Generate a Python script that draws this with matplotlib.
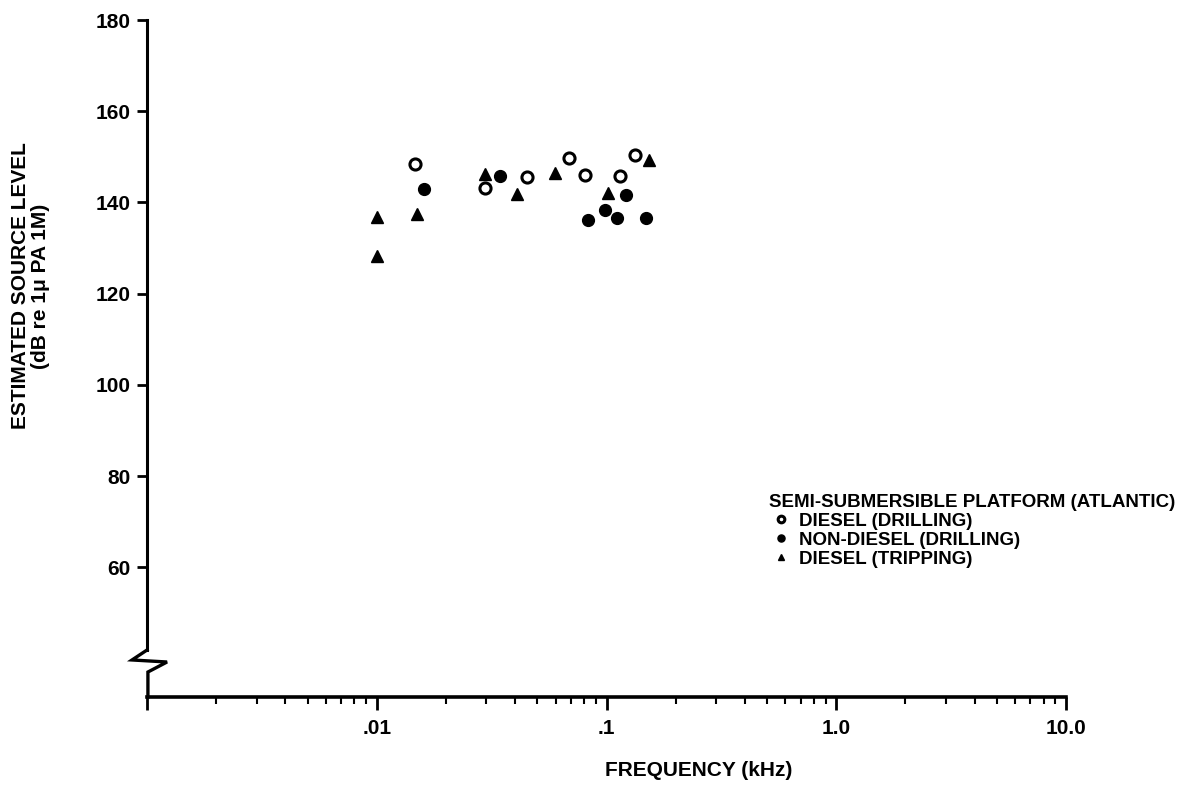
import matplotlib
matplotlib.use("Agg")
import matplotlib.pyplot as plt
from matplotlib.lines import Line2D
from matplotlib.ticker import LogLocator, FixedLocator, FixedFormatter, NullFormatter

plt.rcParams['font.family'] = ['Liberation Sans', 'DejaVu Sans']
plt.rcParams['font.weight'] = 'bold'

# ---- data (frequency in kHz, level in dB) ----
diesel_drill_f = [0.0146, 0.0297, 0.0450, 0.0686, 0.0805, 0.1142, 0.1324]
diesel_drill_db = [148.4, 143.1, 145.5, 149.7, 146.0, 145.7, 150.5]

nondiesel_drill_f = [0.0161, 0.0343, 0.0833, 0.0990, 0.1113, 0.1218, 0.1483]
nondiesel_drill_db = [142.9, 145.7, 136.2, 138.4, 136.5, 141.6, 136.6]

diesel_trip_f = [0.0100, 0.0100, 0.0149, 0.0295, 0.0409, 0.0596, 0.1017, 0.1538]
diesel_trip_db = [136.9, 128.3, 137.5, 146.2, 141.8, 146.5, 142.1, 149.4]

y_ticks = [60, 80, 100, 120, 140, 160, 180]
x_ticks = [0.001, 0.01, 0.1, 1.0, 10.0]
x_tick_labels = ['', '.01', '.1', '1.0', '10.0']

legend_title = 'SEMI-SUBMERSIBLE PLATFORM (ATLANTIC)'
labels = ['DIESEL (DRILLING)', 'NON-DIESEL (DRILLING)', 'DIESEL (TRIPPING)']

W, H = 1191, 787
fig = plt.figure(figsize=(W / 100, H / 100), dpi=100)
ax = fig.add_axes([147 / W, 90 / H, 919 / W, 677 / H])

ax.set_xscale('log')
ax.set_xlim(0.001, 10)
ax.set_ylim(31.6, 180)

h1, = ax.plot(diesel_drill_f, diesel_drill_db, 'o', ms=8, mfc='white', mec='black', mew=2.2,
              linestyle='none', clip_on=False)
h2, = ax.plot(nondiesel_drill_f, nondiesel_drill_db, 'o', ms=8.5, mfc='black', mec='black',
              linestyle='none', clip_on=False)
h3, = ax.plot(diesel_trip_f, diesel_trip_db, '^', ms=8, mfc='black', mec='black',
              linestyle='none', clip_on=False)

# spines
for s in ['top', 'right']:
    ax.spines[s].set_visible(False)
ax.spines['bottom'].set_linewidth(2.6)
ax.spines['left'].set_linewidth(2.2)
ybreak = 31.6 + 0.0694 * (180 - 31.6)
ax.spines['left'].set_bounds(ybreak, 180)

# axis break zigzag
zx = [0.0, -0.0163, 0.0218, 0.001, 0.001]
zy = [0.0694, 0.0547, 0.0517, 0.0369, 0.0]
ax.add_line(Line2D(zx, zy, transform=ax.transAxes, color='black', lw=2.4, clip_on=False,
                   solid_joinstyle='miter'))

# ticks
ax.yaxis.set_major_locator(FixedLocator(y_ticks))
ax.tick_params(axis='y', direction='out', length=7, width=2, labelsize=15, pad=5)
ax.xaxis.set_major_locator(FixedLocator(x_ticks))
ax.xaxis.set_major_formatter(FixedFormatter(x_tick_labels))
ax.xaxis.set_minor_locator(LogLocator(base=10, subs=range(2, 10), numticks=20))
ax.xaxis.set_minor_formatter(NullFormatter())
ax.tick_params(axis='x', which='major', direction='out', length=9, width=2, labelsize=15, pad=7)
ax.tick_params(axis='x', which='minor', direction='out', length=5, width=1.5)

ax.set_xlabel('FREQUENCY (kHz)', fontsize=15, fontweight='bold')
ax.xaxis.set_label_coords(0.60, -0.095)
ax.set_ylabel('ESTIMATED SOURCE LEVEL\n(dB re 1\u03bc PA 1M)', fontsize=15, fontweight='bold',
              linespacing=1.05)
ax.yaxis.set_label_coords(-0.106, 0.607)

leg = ax.legend([h1, h2, h3], labels, title=legend_title, loc='upper left',
                bbox_to_anchor=(0.677, 0.30), frameon=False, fontsize=13.5,
                title_fontproperties={'size': 13.5, 'weight': 'bold'},
                handlelength=1.3, handletextpad=0.3, markerscale=0.6,
                labelspacing=0.1, borderpad=0, borderaxespad=0)
leg._legend_box.align = 'left'

fig.savefig('out.png', dpi=100)
